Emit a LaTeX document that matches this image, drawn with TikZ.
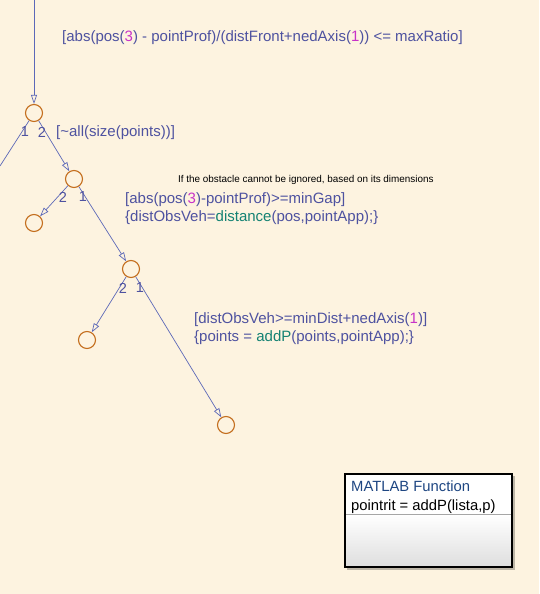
\documentclass[tikz,border=0pt]{standalone}
\usepackage{fontspec}
\setmainfont{Liberation Sans}
\usetikzlibrary{arrows.meta}
\definecolor{bg}{RGB}{253,243,224}
\definecolor{lbl}{RGB}{78,82,160}
\definecolor{wire}{RGB}{92,104,184}
\definecolor{junc}{RGB}{196,110,30}
\definecolor{num}{RGB}{200,50,200}
\definecolor{fnc}{RGB}{20,130,115}
\definecolor{mtitle}{RGB}{30,70,130}
\newcommand{\nm}[1]{\textcolor{num}{#1}}
\newcommand{\fn}[1]{\textcolor{fnc}{#1}}
\tikzset{
  junction/.style={circle, draw=junc, line width=1.1pt, minimum size=17pt, inner sep=0pt},
  trans/.style={draw=wire, line width=0.7pt, -{Triangle[open, length=9pt, width=6pt]}},
  plain/.style={draw=wire, line width=0.7pt},
  cond/.style={text=lbl, font=\fontsize{15}{18}\selectfont, inner sep=0pt, anchor=west},
  cond2/.style={text=lbl, font=\fontsize{15}{18}\selectfont, inner sep=0pt, anchor=west, align=left},
  idx/.style={text=lbl, font=\fontsize{14.5}{16}\selectfont, inner sep=0pt},
  note/.style={text=black, font=\fontsize{9.9}{11}\selectfont, inner sep=0pt, anchor=west}
}
\begin{document}
\begin{tikzpicture}[x=1pt,y=-1pt]
\useasboundingbox[fill=bg] (0,0) rectangle (539,594);

% junctions of the flow graph
\node[junction] (j1) at (34,113) {};
\node[junction] (j2) at (74,179) {};
\node[junction] (j3) at (34,223) {};
\node[junction] (j4) at (131,269) {};
\node[junction] (j5) at (87,340) {};
\node[junction] (j6) at (226,425) {};
\coordinate (entry) at (34,0);
\coordinate (exit) at (0,166);

% transitions
\draw[trans] (entry) -- (j1);
\draw[plain] (j1) -- (exit);
\draw[trans] (j1) -- (j2);
\draw[trans] (j2) -- (j3);
\draw[trans] (j2) -- (j4);
\draw[trans] (j4) -- (j5);
\draw[trans] (j4) -- (j6);

% execution order numbers
\node[idx] (o11) at (25,132) {1};
\node[idx] (o12) at (42,132) {2};
\node[idx] (o22) at (63,197) {2};
\node[idx] (o21) at (83,197) {1};
\node[idx] (o42) at (123,288) {2};
\node[idx] (o41) at (140,288) {1};

% transition labels
\node[cond] (c0) at (62,38) {[abs(pos(\nm{3}) - pointProf)/(distFront+nedAxis(\nm{1})) <= maxRatio]};
\node[cond] (c1) at (56,133) {[\textasciitilde all(size(points))]};
\node[note] (n1) at (178,180) {If the obstacle cannot be ignored, based on its dimensions};
\node[cond2] (c2) at (125,209) {[abs(pos(\nm{3})-pointProf)>=minGap]\\\{distObsVeh=\fn{distance}(pos,pointApp);\}};
\node[cond2] (c3) at (194,329) {[distObsVeh>=minDist+nedAxis(\nm{1})]\\\{points = \fn{addP}(points,pointApp);\}};

% MATLAB Function block
\fill[black, opacity=0.25] (347,476) rectangle (515,570);
\shade[top color=white, bottom color=black!13] (345,514.5) rectangle (512,567);
\fill[white] (345,474) rectangle (512,514.5);
\draw[black!35, line width=0.8pt] (345,514.5) -- (512,514.5);
\draw[black, line width=2.4pt] (345,474) rectangle (512,567);
\node[anchor=west, inner sep=0pt, text=mtitle, font=\fontsize{14.8}{16}\selectfont] (ft) at (351,486) {MATLAB Function};
\node[anchor=west, inner sep=0pt, text=black, font=\fontsize{14.8}{16}\selectfont] (fs) at (351,506.5) {pointrit = addP(lista,p)};
\end{tikzpicture}
\end{document}
